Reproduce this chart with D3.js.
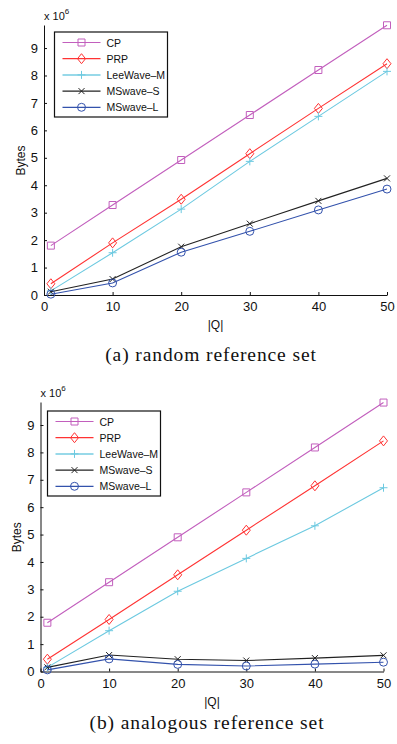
<!DOCTYPE html>
<html>
<head>
<meta charset="utf-8">
<script src="https://cdnjs.cloudflare.com/ajax/libs/d3/7.8.5/d3.min.js"></script>
<style>
  body { margin: 0; background: #fff; }
  svg { display: block; }
</style>
</head>
<body>
<div id="chart"></div>
<script>
// x positions (|Q|)
const qValues = [1, 10, 20, 30, 40, 50];
const seriesNames = ["CP", "PRP", "LeeWave–M", "MSwave–S", "MSwave–L"];
const yTicks = [0, 1, 2, 3, 4, 5, 6, 7, 8, 9];
const xTicks = [0, 10, 20, 30, 40, 50];

// (a) random reference set, in units of 10^6 bytes
const randomCP = [1.80, 3.28, 4.92, 6.56, 8.20, 9.83];
const randomPRP = [0.41, 1.90, 3.49, 5.15, 6.80, 8.43];
const randomLeeWaveM = [0.15, 1.54, 3.13, 4.87, 6.51, 8.15];
const randomMSwaveS = [0.12, 0.58, 1.76, 2.60, 3.43, 4.25];
const randomMSwaveL = [0.03, 0.44, 1.56, 2.32, 3.10, 3.86];

// (b) analogous reference set
const analogCP = [1.78, 3.26, 4.90, 6.54, 8.18, 9.82];
const analogPRP = [0.45, 1.90, 3.53, 5.16, 6.78, 8.42];
const analogLeeWaveM = [0.15, 1.49, 2.93, 4.13, 5.32, 6.71];
const analogMSwaveS = [0.15, 0.60, 0.45, 0.40, 0.49, 0.59];
const analogMSwaveL = [0.06, 0.46, 0.26, 0.20, 0.27, 0.34];

const colors = ["#c25fbd", "#ff3333", "#6cc9e0", "#222222", "#3352ac"];
const markers = ["square", "diamond", "plus", "cross", "circle"];

const width = 397, height = 744;
const svg = d3.select("#chart").append("svg")
    .attr("width", width)
    .attr("height", height);

const sans = "Liberation Sans, Arial, Helvetica, sans-serif";
const serif = "Liberation Serif, Times New Roman, serif";

function drawMarker(g, type, color) {
    const p = g.append("path")
        .attr("fill", "none")
        .attr("stroke", color)
        .attr("stroke-width", 1);
    if (type === "square") p.attr("d", "M-3.5,-3.5H3.5V3.5H-3.5Z");
    if (type === "diamond") p.attr("d", "M0,-5L4,0L0,5L-4,0Z");
    if (type === "plus") p.attr("d", "M-4,0H4M0,-4V4");
    if (type === "cross") p.attr("d", "M-3,-3L3,3M-3,3L3,-3");
    if (type === "circle") p.attr("d", d3.symbol(d3.symbolCircle, 50)());
}

function drawPanel(opt, series) {
    const x = d3.scaleLinear().domain([0, 50]).range([opt.left, opt.right]);
    const y = d3.scaleLinear().domain([0, 9.84]).range([opt.bottom, opt.top]);
    const g = svg.append("g");

    // axes (MATLAB style, ticks pointing inward)
    const xAxis = g.append("g")
        .attr("transform", `translate(0,${opt.bottom})`)
        .call(d3.axisBottom(x).tickValues(xTicks).tickSizeInner(-3).tickSizeOuter(0).tickPadding(7));
    const yAxis = g.append("g")
        .attr("transform", `translate(${opt.left},0)`)
        .call(d3.axisLeft(y).tickValues(yTicks).tickSizeInner(-3).tickSizeOuter(0).tickPadding(6));
    [xAxis, yAxis].forEach(a => {
        a.select(".domain").attr("stroke", "#111").attr("stroke-width", 1);
        a.selectAll(".tick line").attr("stroke", "#111");
        a.selectAll(".tick text")
            .attr("fill", "#111")
            .style("font-family", sans)
            .style("font-size", "13px");
    });

    // exponent label
    const expo = g.append("text")
        .attr("x", opt.left)
        .attr("y", opt.top - 5)
        .style("font-family", sans)
        .style("font-size", "11px")
        .attr("fill", "#111");
    expo.append("tspan").text("x 10");
    expo.append("tspan").attr("dy", -6).style("font-size", "8px").text("6");

    // axis labels
    g.append("text")
        .attr("transform", `translate(${opt.left - 19.5},${y(4.9)}) rotate(-90)`)
        .attr("text-anchor", "middle")
        .style("font-family", sans)
        .style("font-size", "12px")
        .attr("fill", "#111")
        .text("Bytes");
    g.append("text")
        .attr("x", x(25))
        .attr("y", opt.bottom + 34)
        .attr("text-anchor", "middle")
        .style("font-family", sans)
        .style("font-size", "12px")
        .attr("fill", "#111")
        .text("|Q|");

    // lines and markers
    const line = d3.line().x((d, i) => x(qValues[i])).y(d => y(d));
    series.forEach((vals, s) => {
        g.append("path")
            .datum(vals)
            .attr("fill", "none")
            .attr("stroke", colors[s])
            .attr("stroke-width", 1.1)
            .attr("d", line);
        vals.forEach((v, i) => {
            const m = g.append("g").attr("transform", `translate(${x(qValues[i])},${y(v)})`);
            drawMarker(m, markers[s], colors[s]);
        });
    });

    // legend
    const lg = g.append("g").attr("transform", `translate(${opt.legX},${opt.legY})`);
    lg.append("rect")
        .attr("width", opt.legW)
        .attr("height", 85)
        .attr("fill", "#fff")
        .attr("stroke", "#111")
        .attr("stroke-width", 1.2);
    seriesNames.forEach((name, s) => {
        const row = lg.append("g").attr("transform", `translate(0,${10.5 + s * 16.2})`);
        row.append("line")
            .attr("x1", 8).attr("x2", 46)
            .attr("stroke", colors[s])
            .attr("stroke-width", s === 2 ? 2 : 1.2)
            .attr("stroke-opacity", s === 2 ? 0.7 : 1);
        const m = row.append("g").attr("transform", "translate(27,0)");
        drawMarker(m, markers[s], colors[s]);
        row.append("text")
            .attr("x", 52)
            .attr("y", 4)
            .style("font-family", sans)
            .style("font-size", "10.5px")
            .attr("fill", "#111")
            .text(name);
    });

    // caption
    g.append("text")
        .attr("x", opt.captionX)
        .attr("y", opt.captionY)
        .attr("text-anchor", "middle")
        .style("font-family", serif)
        .style("font-size", "19.5px")
        .style("letter-spacing", "0.9px")
        .attr("fill", "#111")
        .text(opt.caption);
}

drawPanel({
    left: 44, right: 387, top: 25, bottom: 295,
    legX: 54.5, legY: 32, legW: 113,
    captionX: 211, captionY: 361, caption: "(a) random reference set"
}, [randomCP, randomPRP, randomLeeWaveM, randomMSwaveS, randomMSwaveL]);

drawPanel({
    left: 40.5, right: 383.5, top: 402, bottom: 671.5,
    legX: 47.5, legY: 411, legW: 113,
    captionX: 207, captionY: 729, caption: "(b) analogous reference set"
}, [analogCP, analogPRP, analogLeeWaveM, analogMSwaveS, analogMSwaveL]);
</script>
</body>
</html>
